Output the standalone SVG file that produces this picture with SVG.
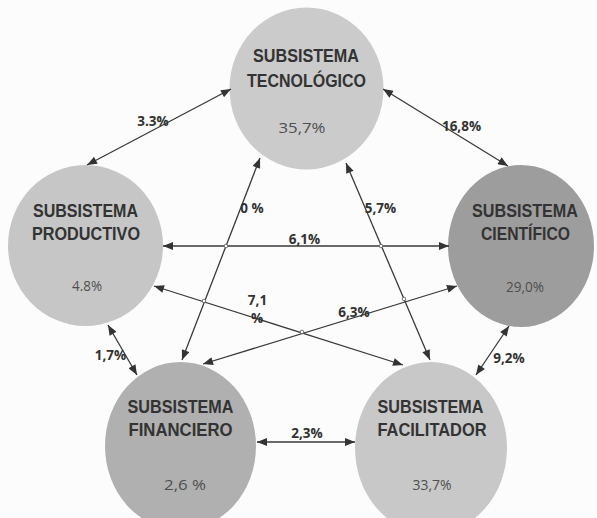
<svg xmlns="http://www.w3.org/2000/svg" width="597" height="518" viewBox="0 0 597 518">
<style>
.bg{fill:#fcfcfc}
.title{font-family:"Liberation Sans",Arial,sans-serif;font-weight:bold;font-size:19px;fill:#333;text-anchor:middle}
.pct{font-family:"Open Sans","Liberation Sans",sans-serif;font-size:14px;fill:#4f4f4f;text-anchor:middle}
.lbl{font-family:"Open Sans","Liberation Sans",sans-serif;font-weight:bold;font-size:13.5px;fill:#333;text-anchor:middle}
.conn{stroke:#3a3a3a;stroke-width:1.3;fill:none;marker-start:url(#arr);marker-end:url(#arr)}
.x{fill:#fcfcfc;stroke:#555;stroke-width:0.8}
</style>
<defs>
<marker id="arr" viewBox="0 0 10 8" refX="10" refY="4" markerWidth="11" markerHeight="8" markerUnits="userSpaceOnUse" orient="auto-start-reverse">
<path d="M0,0 L10,4 L0,8 Z" fill="#333"/>
</marker>
</defs>
<rect class="bg" x="0" y="0" width="597" height="518"/>

<g id="tecnologico">
<ellipse cx="306.5" cy="88.5" rx="77" ry="81" fill="#cbcbcb"/>
<text class="title" x="306" y="62" textLength="106" lengthAdjust="spacingAndGlyphs">SUBSISTEMA</text>
<text class="title" x="306.5" y="87" textLength="119" lengthAdjust="spacingAndGlyphs">TECNOLÓGICO</text>
<text class="pct" x="302" y="133" textLength="47" lengthAdjust="spacingAndGlyphs">35,7%</text>
</g>

<g id="productivo">
<ellipse cx="85.5" cy="245.5" rx="77.5" ry="80.5" fill="#c6c6c6"/>
<text class="title" x="85.5" y="217" textLength="105" lengthAdjust="spacingAndGlyphs">SUBSISTEMA</text>
<text class="title" x="86" y="240" textLength="108" lengthAdjust="spacingAndGlyphs">PRODUCTIVO</text>
<text class="pct" x="87" y="291" textLength="30" lengthAdjust="spacingAndGlyphs">4.8%</text>
</g>

<g id="cientifico">
<ellipse cx="521" cy="246" rx="73" ry="81" fill="#9d9d9d"/>
<text class="title" x="525" y="217" textLength="106" lengthAdjust="spacingAndGlyphs">SUBSISTEMA</text>
<text class="title" x="525.5" y="240" textLength="89" lengthAdjust="spacingAndGlyphs">CIENTÍFICO</text>
<text class="pct" x="525" y="292" textLength="38" lengthAdjust="spacingAndGlyphs">29,0%</text>
</g>

<g id="financiero">
<ellipse cx="180.5" cy="446" rx="75.5" ry="84" fill="#b0b0b0"/>
<text class="title" x="180.5" y="413" textLength="106" lengthAdjust="spacingAndGlyphs">SUBSISTEMA</text>
<text class="title" x="180.5" y="436" textLength="104" lengthAdjust="spacingAndGlyphs">FINANCIERO</text>
<text class="pct" x="185" y="490" textLength="42" lengthAdjust="spacingAndGlyphs">2,6 %</text>
</g>

<g id="facilitador">
<ellipse cx="431" cy="448" rx="76" ry="86" fill="#c8c8c8"/>
<text class="title" x="430.5" y="413" textLength="106" lengthAdjust="spacingAndGlyphs">SUBSISTEMA</text>
<text class="title" x="432" y="436" textLength="109" lengthAdjust="spacingAndGlyphs">FACILITADOR</text>
<text class="pct" x="432" y="490" textLength="39" lengthAdjust="spacingAndGlyphs">33,7%</text>
</g>

<g id="connectors">
<line class="conn" x1="87" y1="165" x2="231" y2="89"/>
<line class="conn" x1="383" y1="89" x2="508" y2="166"/>
<line class="conn" x1="163" y1="246" x2="449" y2="246"/>
<line class="conn" x1="260" y1="158" x2="182" y2="360"/>
<line class="conn" x1="346" y1="163" x2="430" y2="360"/>
<line class="conn" x1="154" y1="286" x2="403" y2="365"/>
<line class="conn" x1="203" y1="364" x2="457" y2="286"/>
<line class="conn" x1="108" y1="325" x2="137" y2="375"/>
<line class="conn" x1="509" y1="326" x2="476" y2="375"/>
<line class="conn" x1="257" y1="442" x2="355" y2="442"/>
<circle class="x" cx="226" cy="246" r="1.8"/>
<circle class="x" cx="381" cy="246" r="1.8"/>
<circle class="x" cx="204" cy="301" r="1.8"/>
<circle class="x" cx="302" cy="332" r="1.8"/>
<circle class="x" cx="404" cy="299" r="1.8"/>
<text class="lbl" x="153" y="126">3.3%</text>
<text class="lbl" x="461.5" y="131">16,8%</text>
<text class="lbl" x="304.5" y="244">6,1%</text>
<text class="lbl" x="252" y="213">0 %</text>
<text class="lbl" x="380.5" y="213">5,7%</text>
<text class="lbl" x="257.5" y="305">7,1</text>
<text class="lbl" x="257" y="323">%</text>
<text class="lbl" x="354" y="317">6,3%</text>
<text class="lbl" x="110.5" y="360">1,7%</text>
<text class="lbl" x="509" y="363">9,2%</text>
<text class="lbl" x="307" y="438">2,3%</text>
</g>
</svg>
